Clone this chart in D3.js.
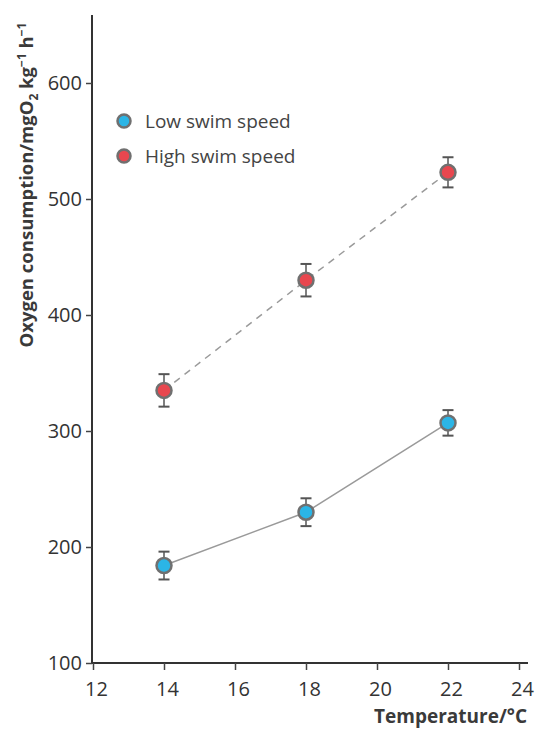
<!DOCTYPE html>
<html>
<head>
<meta charset="utf-8">
<script src="https://cdn.jsdelivr.net/npm/d3@7"></script>
<style>
  body { margin: 0; background: #fff; }
  text { font-family: "Open Sans", "Noto Sans", sans-serif; }
</style>
</head>
<body>
<div id="chart"></div>
<script>
// data
const temps = [14, 18, 22];
const lowSpeed = [184, 230, 307];
const lowErr = [12, 12, 11];
const highSpeed = [335, 430, 523];
const highErr = [14, 14, 13];
const xTicks = [12, 14, 16, 18, 20, 22, 24];
const yTicks = [100, 200, 300, 400, 500, 600];

const width = 546, height = 729;

const svg = d3.select("#chart")
    .append("svg")
    .attr("width", width)
    .attr("height", height);

// Scales (100 at y=663, 600 at y=83)
const xScale = d3.scaleLinear().domain([12, 24]).range([93, 519]);
const yScale = d3.scaleLinear().domain([100, 600]).range([663, 83]);

// Axes
const xAxis = d3.axisBottom(xScale).tickValues(xTicks).tickSize(7).tickPadding(12).tickSizeOuter(0);
const yAxis = d3.axisLeft(yScale).tickValues(yTicks).tickSize(6).tickPadding(4).tickSizeOuter(0);

const gx = svg.append("g")
    .attr("transform", `translate(0,${yScale(100)})`)
    .call(xAxis);
gx.select(".domain").attr("d", `M${xScale(12) - 1},0H528`);

const gy = svg.append("g")
    .attr("transform", `translate(${xScale(12) - 1},0)`)
    .call(yAxis);
gy.select(".domain").attr("d", `M0,${yScale(100)}V15`);

[gx, gy].forEach(g => g.attr("font-size", 20).attr("font-family", "'Open Sans', sans-serif"));

svg.selectAll(".domain").attr("stroke", "#333").attr("stroke-width", 2);
svg.selectAll(".tick line").attr("stroke", "#444").attr("stroke-width", 1.5);
svg.selectAll(".tick text")
    .attr("font-size", 20)
    .attr("fill", "#333");
gx.selectAll(".tick text").attr("dx", 3);

// Axis labels
svg.append("text")
    .attr("transform", `translate(33,${(15 + 355) / 2}) rotate(-90)`)
    .attr("text-anchor", "middle")
    .style("font-size", "18.5px")
    .style("font-weight", "bold")
    .attr("fill", "#3a3a3a")
    .call(t => {
        t.append("tspan").text("Oxygen consumption/mgO");
        t.append("tspan").attr("dy", 5).style("font-size", "12px").text("2");
        t.append("tspan").attr("dy", -5).text(" kg");
        t.append("tspan").attr("dy", -7).style("font-size", "12px").text("−1");
        t.append("tspan").attr("dy", 7).text(" h");
        t.append("tspan").attr("dy", -7).style("font-size", "12px").text("−1");
    });

svg.append("text")
    .attr("x", 527)
    .attr("y", 723)
    .attr("text-anchor", "end")
    .style("font-size", "19px")
    .style("font-weight", "bold")
    .attr("fill", "#3a3a3a")
    .text("Temperature/°C");

// Series
const series = [
    { name: "Low swim speed", values: lowSpeed, err: lowErr, fill: "#2bb5e6", dash: null },
    { name: "High swim speed", values: highSpeed, err: highErr, fill: "#e8474f", dash: "7,6" }
];

const line = d3.line()
    .x(d => xScale(d.t))
    .y(d => yScale(d.v));

series.forEach(s => {
    const pts = temps.map((t, i) => ({ t, v: s.values[i], e: s.err[i] }));

    svg.append("path")
        .datum(pts)
        .attr("d", line)
        .attr("fill", "none")
        .attr("stroke", "#9a9a9a")
        .attr("stroke-width", 1.5)
        .attr("stroke-dasharray", s.dash);

    const g = svg.append("g").selectAll("g").data(pts).join("g");

    // error bars
    g.append("line")
        .attr("x1", d => xScale(d.t)).attr("x2", d => xScale(d.t))
        .attr("y1", d => yScale(d.v + d.e)).attr("y2", d => yScale(d.v - d.e))
        .attr("stroke", "#555").attr("stroke-width", 1.5);
    [1, -1].forEach(sign => {
        g.append("line")
            .attr("x1", d => xScale(d.t) - 5.5).attr("x2", d => xScale(d.t) + 5.5)
            .attr("y1", d => yScale(d.v + sign * d.e)).attr("y2", d => yScale(d.v + sign * d.e))
            .attr("stroke", "#555").attr("stroke-width", 2);
    });

    g.append("circle")
        .attr("cx", d => xScale(d.t))
        .attr("cy", d => yScale(d.v))
        .attr("r", 7.5)
        .attr("fill", s.fill)
        .attr("stroke", "#707070")
        .attr("stroke-width", 2.5);
});

// Legend
const legend = svg.append("g").selectAll("g").data(series).join("g")
    .attr("transform", (d, i) => `translate(124,${121 + i * 35})`);

legend.append("circle")
    .attr("r", 6.5)
    .attr("fill", d => d.fill)
    .attr("stroke", "#707070")
    .attr("stroke-width", 2.5);

legend.append("text")
    .attr("x", 21)
    .attr("y", 7)
    .style("font-size", "19px")
    .attr("fill", "#444")
    .text(d => d.name);
</script>
</body>
</html>
